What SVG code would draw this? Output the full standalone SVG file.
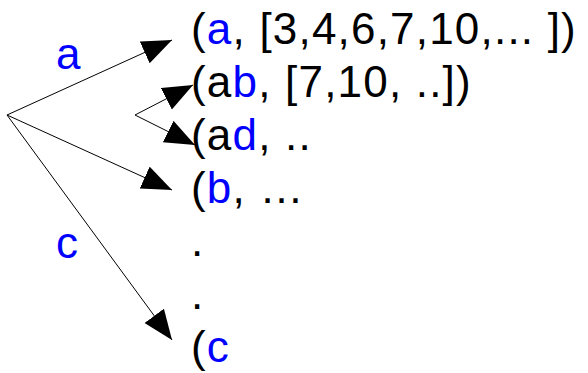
<svg xmlns="http://www.w3.org/2000/svg" width="588" height="373" viewBox="0 0 588 373">
<defs>
<marker id="ah" markerUnits="userSpaceOnUse" markerWidth="32" markerHeight="26" refX="30" refY="12" orient="auto"><path d="M0,0 L30,12 L0,24 Z" fill="#000"/></marker>
<style>
text{font-family:"Liberation Sans",Arial,sans-serif;font-size:44px;fill:#000;letter-spacing:1.2px}
.b{fill:#0000ff}
.e{stroke:#000;stroke-width:1;fill:none;marker-end:url(#ah)}
</style>
</defs>
<rect width="588" height="373" fill="#fff"/>
<g id="connectors">
<line class="e" x1="7" y1="115" x2="172" y2="40"/>
<line class="e" x1="7" y1="115" x2="172" y2="190"/>
<line class="e" x1="7" y1="115" x2="172" y2="340"/>
<line class="e" x1="135" y1="115" x2="193" y2="85"/>
<line class="e" x1="135" y1="115" x2="195" y2="145"/>
<text class="b" x="56" y="69">a</text>
<text class="b" x="56" y="258">c</text>
</g>
<g id="n1"><text x="191" y="44">(<tspan class="b">a</tspan>, [3,4,6,7,10,... ])</text></g>
<g id="n2"><text x="191" y="97">(a<tspan class="b">b</tspan>, [7,10, ..])</text></g>
<g id="n3"><text x="191" y="150">(a<tspan class="b">d</tspan>, ..</text></g>
<g id="n4"><text x="191" y="203">(<tspan class="b">b</tspan>, …</text></g>
<g id="n5"><text x="191" y="256">.</text></g>
<g id="n6"><text x="191" y="309">.</text></g>
<g id="n7"><text x="191" y="362">(<tspan class="b">c</tspan></text></g>
</svg>
